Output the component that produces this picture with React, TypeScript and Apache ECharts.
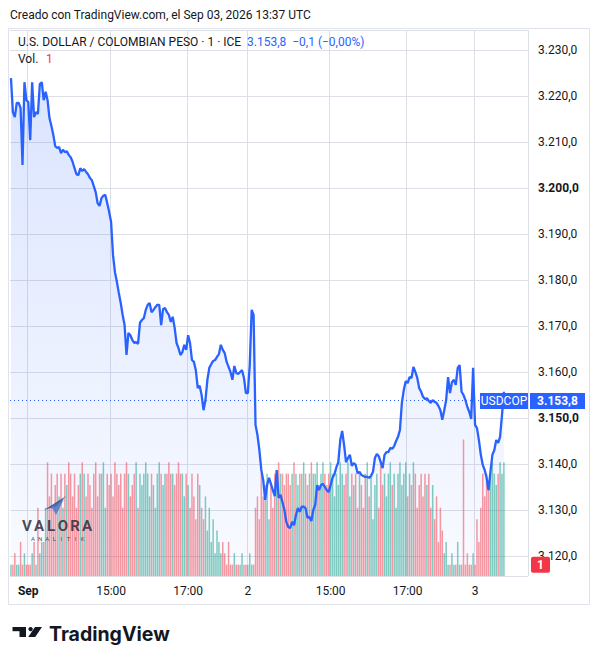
import React, { useEffect, useRef } from "react";
import * as echarts from "echarts";

// ---------- DATA ----------
// sessions of 3-minute bars (TradingView compresses the gaps between sessions)
const sessions = [
  { date: "2026-08-31", start: "18:06", count: 9 },
  { date: "2026-09-01", start: "12:51", count: 114 },
  { date: "2026-09-02", start: "12:51", count: 118 },
  { date: "2026-09-03", start: "12:51", count: 16 },
];
const stepMinutes = 3;
const rightPadBars = 12;

const xTickLabels = [
  { time: "2026-09-01 12:51", label: "Sep", bold: true },
  { time: "2026-09-01 15:00", label: "15:00", bold: false },
  { time: "2026-09-01 17:00", label: "17:00", bold: false },
  { time: "2026-09-02 12:51", label: "2", bold: false },
  { time: "2026-09-02 15:00", label: "15:00", bold: false },
  { time: "2026-09-02 17:00", label: "17:00", bold: false },
  { time: "2026-09-03 12:51", label: "3", bold: false },
];

const price = [
  3223.9, 3216.5, 3215.4, 3218.5, 3218.5, 3217.4, 3205.0, 3223.0, 3219.1, 3218.7,
  3210.4, 3223.0, 3215.4, 3216.5, 3216.1, 3222.6, 3223.0, 3219.1, 3220.9, 3219.1,
  3215.2, 3213.5, 3211.5, 3209.1, 3208.7, 3208.9, 3207.6, 3208.3, 3207.8, 3208.0,
  3207.2, 3206.7, 3205.7, 3204.3, 3203.0, 3202.8, 3204.3, 3203.7, 3204.1, 3203.5,
  3203.0, 3202.2, 3201.7, 3200.4, 3199.1, 3196.7, 3196.1, 3197.8, 3198.3, 3198.5,
  3196.7, 3194.8, 3192.6, 3185.4, 3181.7, 3179.6, 3177.2, 3175.0, 3172.4, 3170.2,
  3163.7, 3168.5, 3168.0, 3167.0, 3166.3, 3166.5, 3166.1, 3170.7, 3171.3, 3171.7,
  3173.5, 3174.6, 3175.0, 3173.0, 3173.5, 3174.1, 3174.6, 3174.6, 3170.2, 3173.7,
  3173.9, 3173.0, 3172.4, 3170.9, 3172.0, 3169.6, 3166.3, 3165.2, 3163.7, 3164.3,
  3165.9, 3164.8, 3168.0, 3166.3, 3162.6, 3162.2, 3160.4, 3156.5, 3157.0, 3155.0,
  3151.7, 3153.9, 3158.3, 3160.9, 3161.7, 3162.4, 3162.6, 3163.3, 3163.9, 3165.9,
  3164.8, 3164.1, 3162.2, 3161.1, 3160.0, 3158.3, 3161.3, 3159.8, 3159.6, 3160.0,
  3160.4, 3158.7, 3155.4, 3155.4, 3161.5, 3173.5, 3172.4, 3148.5, 3146.3, 3143.0,
  3138.7, 3136.5, 3132.2, 3135.4, 3137.0, 3135.7, 3134.3, 3133.0, 3138.7, 3132.6,
  3133.3, 3131.7, 3130.0, 3127.4, 3126.3, 3126.1, 3127.4, 3126.7, 3128.9, 3130.4,
  3129.6, 3130.7, 3130.7, 3130.4, 3128.3, 3128.5, 3127.6, 3130.0, 3131.1, 3135.4,
  3134.3, 3135.4, 3135.7, 3135.0, 3134.3, 3133.9, 3135.4, 3137.0, 3137.8, 3139.3,
  3140.4, 3145.2, 3147.2, 3144.1, 3140.4, 3141.3, 3142.0, 3139.6, 3140.2, 3139.8,
  3138.0, 3138.3, 3137.6, 3137.4, 3137.2, 3137.2, 3137.0, 3137.4, 3138.3, 3141.3,
  3142.2, 3141.7, 3140.4, 3139.1, 3142.0, 3142.6, 3142.6, 3143.5, 3143.3, 3143.9,
  3145.0, 3145.9, 3147.4, 3153.3, 3156.1, 3158.0, 3157.6, 3158.9, 3158.7, 3161.1,
  3160.0, 3158.7, 3156.5, 3155.7, 3154.6, 3154.1, 3154.3, 3153.7, 3153.3, 3153.9,
  3153.5, 3153.3, 3152.6, 3151.7, 3149.6, 3151.7, 3153.9, 3158.9, 3155.4, 3157.8,
  3158.3, 3157.2, 3160.9, 3161.5, 3155.7, 3155.0, 3153.9, 3152.4, 3151.3, 3149.8,
  3160.9, 3148.5, 3147.8, 3145.2, 3142.0, 3139.8, 3138.7, 3137.0, 3134.3, 3138.3,
  3142.0, 3143.0, 3145.2, 3144.6, 3145.9, 3150.7, 3155.7,
];

const volume = [
  1, 1, 2, 1, 1, 3, 1, 2, 1,
  1, 1, 2, 3, 1, 6, 2, 3,
  3, 6, 10, 7, 9, 6, 8, 9,
  7, 9, 6, 9, 8, 10, 9, 7, 9, 6, 8, 9, 10, 9, 7, 9,
  8, 6, 9, 10, 7, 9, 9, 10, 6, 9, 8, 9, 7, 10, 9, 8, 9, 6, 9, 10,
  9, 7, 8, 9, 10, 6, 9, 8, 9, 10, 9, 7, 9, 8, 6, 9, 10, 9, 8, 9,
  9, 10, 9, 9, 8, 9, 10, 9, 9, 7, 9, 8, 6, 9, 7, 5, 9, 8, 6, 5,
  7, 4, 6, 3, 5, 2, 4, 3, 2, 3,
  2, 1, 3, 1, 1, 2, 1, 1, 1, 2, 1, 1,
  1, 2, 1, 1,
  6, 7, 5, 9, 7, 8, 9, 5, 8, 6, 9, 8, 10, 9,
  9, 8, 9, 9, 8, 9, 10, 9, 8, 9, 9, 10, 9, 8, 9, 10, 9, 9, 10, 8,
  9, 10, 9, 8, 9, 10, 9, 7, 9, 8, 10, 9, 8, 9, 10, 7, 9, 8, 9, 6,
  9, 8, 6, 9, 10, 7, 9, 5, 8, 9, 6, 10, 8, 9, 7, 9, 10, 8, 9, 6,
  9, 10, 8, 9, 10, 7, 9, 8, 10, 9, 6, 8, 9, 7, 9,
  8, 9, 6, 8, 5, 7, 3, 6, 4, 2, 3,
  1, 1, 2, 1, 1, 3, 1, 1, 12, 1, 2, 1, 1, 2,
  1, 5, 3, 6, 9, 7, 9, 8, 9, 10, 9, 8, 9, 10, 9, 10,
];

const priceMin = 3115.65;
const priceMax = 3234.35;
const priceStep = 10;
const boldPriceLabels = [3200, 3150];
const volumeMax = 48;
const lastPrice = 3153.8;
const lastVolume = 1;
const symbolName = "USDCOP";
const headerCreated = "Creado con TradingView.com, el Sep 03, 2026 13:37 UTC";
const headerTitle = "U.S. DOLLAR / COLOMBIAN PESO · 1 · ICE";
const headerQuote = "3.153,8  −0,1 (−0,00%)";

// ---------- HELPERS ----------
const pad2 = (n: number) => (n < 10 ? "0" + n : "" + n);
function buildCategories(): string[] {
  const out: string[] = [];
  sessions.forEach((s) => {
    const [h, m] = s.start.split(":").map(Number);
    let t = h * 60 + m;
    for (let k = 0; k < s.count; k++) {
      out.push(`${s.date} ${pad2(Math.floor(t / 60))}:${pad2(t % 60)}`);
      t += stepMinutes;
    }
  });
  for (let k = 0; k < rightPadBars; k++) out.push(`pad-${k}`);
  return out;
}
function fmtEs(v: number, dec: number): string {
  const s = v.toFixed(dec);
  const [i, d] = s.split(".");
  const ii = i.replace(/\B(?=(\d{3})+(?!\d))/g, ".");
  return d ? `${ii},${d}` : ii;
}

const FONT = "Roboto, 'Liberation Sans', Arial, sans-serif";
const TEXT = "#131722";
const GRID = "#dcdfe5";
const BLUE = "#2962ff";
const UP = "rgba(8,153,129,0.5)";
const DOWN = "rgba(242,54,69,0.5)";

export default function App() {
  const ref = useRef<HTMLDivElement>(null);
  useEffect(() => {
    if (!ref.current) return;
    const chart = echarts.init(ref.current, null, { renderer: "svg" });
    const categories = buildCategories();
    const tickMap = new Map(xTickLabels.map((t) => [t.time, t]));
    const showTick = (_i: number, v: string) => tickMap.has(v);

    const volData = volume.map((v, i) => ({
      value: v,
      itemStyle: { color: i > 0 && price[i] < price[i - 1] ? DOWN : UP },
    }));

    chart.setOption({
      animation: false,
      backgroundColor: "#ffffff",
      grid: { left: 10, right: 70, top: 30, bottom: 88 },
      xAxis: {
        type: "category",
        data: categories,
        boundaryGap: true,
        axisLine: { show: false },
        axisTick: { show: false },
        axisLabel: {
          interval: showTick,
          margin: 9,
          color: TEXT,
          fontSize: 12,
          fontFamily: FONT,
          formatter: (v: string) => {
            const t = tickMap.get(v);
            if (!t) return "";
            return t.bold ? `{b|${t.label}}` : t.label;
          },
          rich: { b: { fontWeight: "bold", fontSize: 12, color: TEXT, fontFamily: FONT } },
        },
        splitLine: { show: true, interval: showTick, lineStyle: { color: GRID, width: 1 } },
      },
      yAxis: [
        {
          type: "value",
          position: "right",
          min: priceMin,
          max: priceMax,
          splitNumber: 12,
          axisLine: { show: false },
          axisTick: { show: false },
          axisLabel: {
            margin: 10,
            color: TEXT,
            fontSize: 12,
            fontFamily: FONT,
            formatter: (v: number) => {
              const r = Math.round(v / priceStep) * priceStep;
              if (Math.abs(v - r) > 0.01) return "";
              const s = fmtEs(r, 1);
              return boldPriceLabels.includes(r) ? `{b|${s}}` : s;
            },
            rich: { b: { fontWeight: "bold", fontSize: 12, color: TEXT, fontFamily: FONT } },
          },
          splitLine: { show: true, lineStyle: { color: GRID, width: 1 } },
        },
        { type: "value", min: 0, max: volumeMax, show: false, splitLine: { show: false } },
      ],
      series: [
        {
          type: "line",
          data: price,
          showSymbol: false,
          z: 1,
          lineStyle: { width: 0 },
          areaStyle: {
            color: new echarts.graphic.LinearGradient(0, 0, 0, 1, [
              { offset: 0, color: "rgba(41,98,255,0.24)" },
              { offset: 1, color: "rgba(41,98,255,0.04)" },
            ]),
          },
          silent: true,
        },
        {
          type: "bar",
          yAxisIndex: 1,
          data: volData,
          barWidth: 1.5,
          z: 2,
          silent: true,
        },
        {
          type: "line",
          data: price,
          showSymbol: false,
          z: 3,
          lineStyle: { color: BLUE, width: 2.3 },
          silent: true,
          markLine: {
            silent: true,
            symbol: ["none", "none"],
            label: { show: false },
            lineStyle: { color: BLUE, type: [1, 3], width: 1 },
            data: [{ yAxis: lastPrice }],
          },
        },
      ],
    });

    const yLast = chart.convertToPixel({ yAxisIndex: 0 }, lastPrice) as number;
    const yVol = chart.convertToPixel({ yAxisIndex: 1 }, lastVolume) as number;

    const valoraLetters = ["V", "A", "L", "O", "R", "A"];
    const analitikLetters = ["A", "N", "A", "L", "I", "T", "I", "K"];

    const graphics: any[] = [
      // chart frame
      { type: "rect", shape: { x: 8.5, y: 28.5, width: 581, height: 576 }, style: { fill: "none", stroke: "#e0e3eb", lineWidth: 1 }, z: 50, silent: true },
      // header texts
      { type: "text", x: 10, y: 15, style: { text: headerCreated, fill: TEXT, fontSize: 12, fontFamily: FONT, textVerticalAlign: "middle" }, z: 60 },
      { type: "text", x: 18, y: 42, style: { text: headerTitle, fill: TEXT, fontSize: 12, fontFamily: FONT, textVerticalAlign: "middle" }, z: 60 },
      { type: "text", x: 247, y: 42, style: { text: headerQuote, fill: BLUE, fontSize: 12, fontFamily: FONT, textVerticalAlign: "middle" }, z: 60 },
      { type: "text", x: 18, y: 59, style: { text: "Vol.", fill: TEXT, fontSize: 12, fontFamily: FONT, textVerticalAlign: "middle" }, z: 60 },
      { type: "text", x: 46, y: 59, style: { text: String(lastVolume), fill: "#f23645", fontSize: 12, fontFamily: FONT, textVerticalAlign: "middle" }, z: 60 },
      // last price labels
      { type: "rect", shape: { x: 480, y: yLast - 7.5, width: 48, height: 16 }, style: { fill: BLUE }, z: 70 },
      { type: "text", x: 504, y: yLast + 0.5, style: { text: symbolName, fill: "#ffffff", fontSize: 12, fontFamily: FONT, textAlign: "center", textVerticalAlign: "middle" }, z: 71 },
      { type: "rect", shape: { x: 530, y: yLast - 7.5, width: 55, height: 16 }, style: { fill: BLUE }, z: 70 },
      { type: "text", x: 557.5, y: yLast + 0.5, style: { text: fmtEs(lastPrice, 1), fill: "#ffffff", fontSize: 12, fontWeight: "bold", fontFamily: FONT, textAlign: "center", textVerticalAlign: "middle" }, z: 71 },
      // volume label
      { type: "rect", shape: { x: 531, y: yVol - 8, width: 19, height: 16, r: 2 }, style: { fill: "#f23645" }, z: 70 },
      { type: "text", x: 540.5, y: yVol, style: { text: String(lastVolume), fill: "#ffffff", fontSize: 12, fontWeight: "bold", fontFamily: FONT, textAlign: "center", textVerticalAlign: "middle" }, z: 71 },
      // Valora Analitik watermark
      { type: "polygon", shape: { points: [[44, 510], [66, 496], [57, 506]] }, style: { fill: "#2d4f96", opacity: 0.85 }, z: 40 },
      { type: "polygon", shape: { points: [[50, 508], [64, 499], [56, 515], [53, 509]] }, style: { fill: "#4a74c4", opacity: 0.8 }, z: 40 },
      ...valoraLetters.map((ch, k) => ({
        type: "text", x: 27 + k * 12, y: 526,
        style: { text: ch, fill: "#2a2e3d", fontSize: 15, fontWeight: "bold", fontFamily: FONT, textAlign: "center", textVerticalAlign: "middle", opacity: 0.85 }, z: 40,
      })),
      ...analitikLetters.map((ch, k) => ({
        type: "text", x: 33 + k * 7.1, y: 538,
        style: { text: ch, fill: "#2a2e3d", fontSize: 6, fontFamily: FONT, textAlign: "center", textVerticalAlign: "middle", opacity: 0.85 }, z: 40,
      })),
      // TradingView logo
      { type: "rect", shape: { x: 12.5, y: 627, width: 13.5, height: 4.2 }, style: { fill: "#131722" }, z: 60 },
      { type: "rect", shape: { x: 19.5, y: 627, width: 6.5, height: 10 }, style: { fill: "#131722" }, z: 60 },
      { type: "circle", shape: { cx: 30.6, cy: 629.1, r: 2.2 }, style: { fill: "#131722" }, z: 60 },
      { type: "polygon", shape: { points: [[35, 627], [42, 627], [35.2, 637], [28.2, 637]] }, style: { fill: "#131722" }, z: 60 },
      { type: "text", x: 49, y: 634, style: { text: "TradingView", fill: "#131722", fontSize: 19.5, fontWeight: "bold", fontFamily: "Inter, Roboto, sans-serif", textVerticalAlign: "middle" }, z: 60 },
    ];
    chart.setOption({ graphic: graphics });

    return () => chart.dispose();
  }, []);

  return (
    <div
      ref={ref}
      style={{ position: "absolute", left: 0, top: 0, width: 598, height: 664, background: "#ffffff" }}
    />
  );
}
